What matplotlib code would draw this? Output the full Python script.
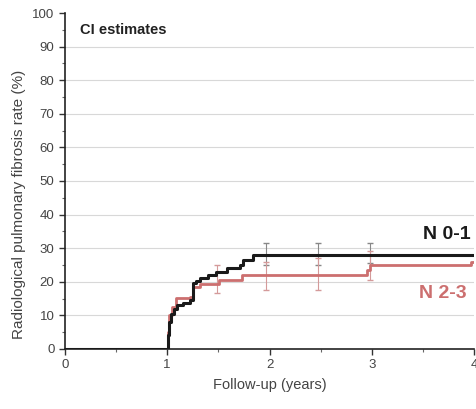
import numpy as np
import matplotlib.pyplot as plt
from matplotlib.ticker import MultipleLocator

plt.rcParams['font.family'] = ['Liberation Sans', 'DejaVu Sans']

# step curves (time in years, cumulative rate in %)
n01_t = [0.0, 1.0, 1.01, 1.02, 1.04, 1.07, 1.10, 1.15, 1.22, 1.25, 1.28, 1.32, 1.40, 1.48, 1.58, 1.71, 1.74, 1.84, 4.0]
n01_y = [0.0, 0.0, 4.0, 8.0, 10.5, 12.0, 13.0, 13.8, 14.6, 19.6, 20.3, 21.0, 22.0, 23.0, 24.0, 25.0, 26.5, 28.0, 28.0]

n23_t = [0.0, 1.0, 1.01, 1.02, 1.05, 1.09, 1.22, 1.25, 1.32, 1.51, 1.73, 2.95, 2.98, 3.97, 4.0]
n23_y = [0.0, 0.0, 5.0, 10.0, 12.5, 15.2, 15.5, 18.5, 19.2, 20.5, 22.0, 23.5, 25.0, 26.0, 26.0]

# confidence intervals
n01_ci_t = [1.97, 2.47, 2.98]
n01_ci_lo = [25.0, 25.0, 25.5]
n01_ci_hi = [31.5, 31.5, 31.5]

n23_ci_t = [1.49, 1.97, 2.47, 2.98]
n23_ci_lo = [16.5, 17.5, 17.5, 20.5]
n23_ci_hi = [25.0, 26.0, 27.0, 29.0]

black = '#1a1a1a'
red = '#cc6f6f'

fig = plt.figure(figsize=(4.77, 4.09), dpi=100)
ax = fig.add_axes([0.136, 0.147, 0.858, 0.821])

for yv in range(10, 100, 10):
    ax.axhline(yv, color='#d8d8d8', lw=0.8, zorder=0)

ax.step(n23_t, n23_y, where='post', color=red, lw=2.0, zorder=3)
ax.step(n01_t, n01_y, where='post', color=black, lw=2.2, zorder=4)

ax.errorbar(n01_ci_t, [(a + b) / 2 for a, b in zip(n01_ci_lo, n01_ci_hi)],
            yerr=[[(b - a) / 2 for a, b in zip(n01_ci_lo, n01_ci_hi)]] * 2,
            fmt='none', ecolor='#888888', elinewidth=0.8, capsize=2, zorder=2)
ax.errorbar(n23_ci_t, [(a + b) / 2 for a, b in zip(n23_ci_lo, n23_ci_hi)],
            yerr=[[(b - a) / 2 for a, b in zip(n23_ci_lo, n23_ci_hi)]] * 2,
            fmt='none', ecolor='#d49a9a', elinewidth=0.8, capsize=2, zorder=2)

ax.text(3.97, 34, 'N 0-1', ha='right', va='center', fontsize=14, fontweight='bold', color=black)
ax.text(3.93, 16.5, 'N 2-3', ha='right', va='center', fontsize=14, fontweight='bold', color=red)
ax.text(0.15, 95, 'CI estimates', ha='left', va='center', fontsize=10.5, fontweight='bold', color='#222222')

ax.set_xlim(0, 4)
ax.set_ylim(0, 100)
ax.xaxis.set_major_locator(MultipleLocator(1))
ax.xaxis.set_minor_locator(MultipleLocator(0.5))
ax.yaxis.set_major_locator(MultipleLocator(10))
ax.yaxis.set_minor_locator(MultipleLocator(5))
ax.tick_params(which='major', length=4, width=1, colors='#333333', labelsize=9.5, labelcolor='#444444')
ax.tick_params(which='minor', length=2, width=0.8, colors='#666666')

for s in ['top', 'right']:
    ax.spines[s].set_visible(False)
for s in ['left', 'bottom']:
    ax.spines[s].set_color('#222222')
    ax.spines[s].set_linewidth(1.2)

ax.set_xlabel('Follow-up (years)', fontsize=10.5, color='#444444', labelpad=5)
ax.set_ylabel('Radiological pulmonary fibrosis rate (%)', fontsize=11, color='#444444')
ax.yaxis.set_label_coords(-0.095, 0.43)

fig.savefig('out.png', dpi=100)
